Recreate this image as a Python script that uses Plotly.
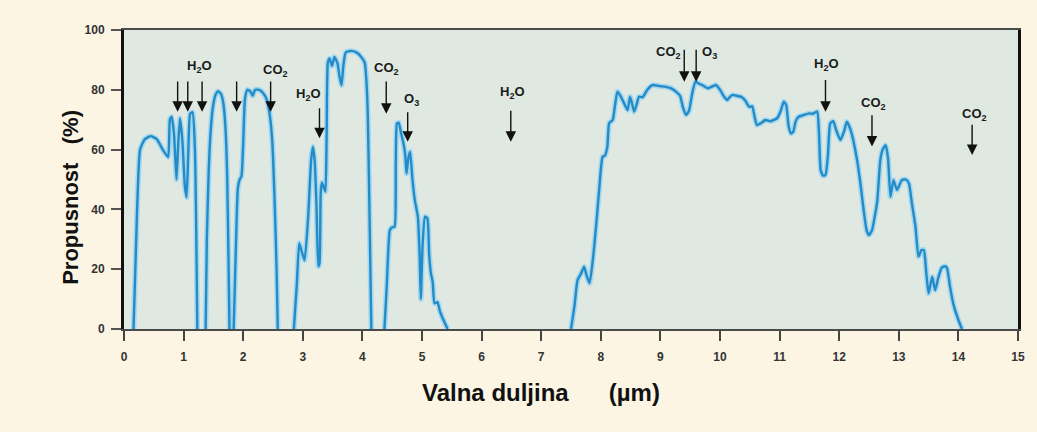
import plotly.graph_objects as go

# ---- data: atmospheric transmission bands (wavelength in µm, transmission in %) ----
band1_x = [0.16, 0.22, 0.27, 0.35, 0.45, 0.55, 0.65, 0.74, 0.77, 0.80, 0.84, 0.88, 0.91, 0.94, 0.98, 1.02, 1.05, 1.08, 1.11, 1.15, 1.19, 1.23]
band1_y = [0, 40, 60, 63.5, 64.5, 63.5, 60, 57.5, 70, 71, 65, 50, 62, 70.5, 63, 48, 44, 60, 72, 72.5, 60, 0]

band2_x = [1.37, 1.39, 1.42, 1.45, 1.49, 1.54, 1.58, 1.63, 1.67, 1.70, 1.73, 1.75, 1.77]
band2_y = [0, 30, 52, 65, 74, 78.5, 79.5, 78.5, 75, 68, 52, 28, 0]

band3_x = [1.84, 1.87, 1.91, 1.94, 1.97, 2.00, 2.03, 2.07, 2.12, 2.16, 2.20, 2.27, 2.33, 2.40, 2.45, 2.49, 2.53, 2.56, 2.58]
band3_y = [0, 22, 47, 50, 51, 62, 77, 80, 79.5, 78, 80, 80, 79, 76.5, 71, 62, 41, 20, 0]

band4_x = [2.85, 2.90, 2.94, 2.98, 3.03, 3.09, 3.14, 3.17, 3.20, 3.23, 3.26, 3.28, 3.30, 3.32, 3.36, 3.38, 3.40, 3.42, 3.45, 3.49, 3.53, 3.58, 3.62, 3.65, 3.68, 3.72, 3.80, 3.90, 3.98, 4.04, 4.07, 4.09, 4.11, 4.13, 4.15]
band4_y = [0, 15, 28.7, 26, 23, 37.6, 56.5, 61, 56, 41, 21, 22, 45, 49, 47, 46, 65, 89, 90.5, 88, 91, 89, 84, 81.5, 88, 92.5, 93, 92.5, 91, 89, 82, 72, 50, 25, 0]

band5_x = [4.37, 4.41, 4.46, 4.50, 4.54, 4.56, 4.58, 4.61, 4.65, 4.69, 4.72, 4.74, 4.77, 4.80, 4.84, 4.88, 4.93, 4.96, 4.98, 5.01, 5.05, 5.09, 5.12, 5.15, 5.18, 5.21, 5.26, 5.30, 5.36, 5.43]
band5_y = [0, 15, 33, 34, 34.2, 55, 68.8, 69, 65.4, 62, 58, 52, 57, 59.3, 50, 43, 37.6, 25, 10, 28, 37.6, 37, 25, 18.6, 15.6, 8.6, 9, 6, 3, 0]

band6_x = [7.50, 7.56, 7.61, 7.67, 7.72, 7.76, 7.81, 7.86, 7.92, 7.97, 8.03, 8.07, 8.11, 8.14, 8.20, 8.24, 8.28, 8.33, 8.39, 8.45, 8.49, 8.53, 8.56, 8.60, 8.64, 8.70, 8.78, 8.87, 9.00, 9.09, 9.18, 9.26, 9.33, 9.38, 9.43, 9.48, 9.54, 9.59, 9.65, 9.70, 9.80, 9.93, 10.00, 10.07, 10.12, 10.16, 10.21, 10.28, 10.35, 10.42, 10.49, 10.54, 10.58, 10.62, 10.70, 10.76, 10.85, 10.96, 11.02, 11.07, 11.11, 11.15, 11.19, 11.23, 11.27, 11.32, 11.40, 11.49, 11.56, 11.63, 11.66, 11.69, 11.73, 11.77, 11.81, 11.85, 11.90, 11.95, 12.02, 12.08, 12.13, 12.20, 12.30, 12.36, 12.41, 12.46, 12.50, 12.55, 12.60, 12.64, 12.69, 12.73, 12.78, 12.82, 12.86, 12.91, 12.97, 13.05, 13.12, 13.17, 13.22, 13.28, 13.33, 13.38, 13.42, 13.46, 13.50, 13.56, 13.61, 13.66, 13.72, 13.78, 13.81, 13.86, 13.92, 14.00, 14.06]
band6_y = [0, 8, 16.4, 18.6, 20.8, 18, 15.3, 22, 34.2, 46, 57.6, 58, 61, 68.8, 69.9, 75, 79.4, 78, 75.5, 73.2, 77.7, 75, 72.7, 75, 77.7, 77.5, 80, 81.6, 81.2, 81, 80.5, 79.4, 78, 74, 71.6, 73, 79.4, 82.7, 82, 81.6, 80.5, 81.6, 80, 77.7, 76.6, 77.5, 78.3, 78, 77.7, 76.5, 74.3, 74.5, 71, 68.2, 69, 69.9, 69.5, 70.5, 73, 76, 75, 68, 65.4, 66, 69.5, 71, 71.5, 72.1, 72, 72.7, 66, 53, 51.3, 51.5, 58, 68.8, 69.5, 66.5, 63.2, 66, 69.3, 66, 56.5, 48, 39.8, 33, 31.4, 33, 38, 43.1, 56.5, 60, 61.5, 57, 44.2, 49.8, 46.5, 49.8, 50, 48.7, 42, 34.2, 24.2, 26.4, 26.4, 19, 11.9, 17.5, 13, 17, 20.5, 21, 20.3, 14.1, 8, 3, 0]

# ---- absorber markers (arrows) ----
arrow_x = [0.90, 1.07, 1.31, 1.89, 2.46, 3.28, 4.40, 4.76, 6.49, 9.40, 9.60, 11.77, 12.55, 14.23]
arrow_tip = [72.7, 72.7, 72.7, 72.7, 72.7, 63.8, 72, 62.6, 62.6, 82.7, 82.7, 72.7, 61, 58.2]
arrow_tail = [83.3, 83.3, 83.3, 83.3, 83.3, 74.3, 83.3, 73, 73.5, 93.9, 93.9, 83.8, 72, 68.8]

label_text = ["H<sub>2</sub>O", "CO<sub>2</sub>", "H<sub>2</sub>O", "CO<sub>2</sub>", "O<sub>3</sub>", "H<sub>2</sub>O",
              "CO<sub>2</sub>", "O<sub>3</sub>", "H<sub>2</sub>O", "CO<sub>2</sub>", "CO<sub>2</sub>"]
label_x = [1.27, 2.55, 3.10, 4.40, 4.82, 6.52, 9.13, 9.82, 11.78, 12.58, 14.27]
label_y = [87.8, 86.6, 78.3, 87.0, 76.6, 79.0, 92.6, 92.6, 88.6, 75.3, 71.9]

x_ticks = list(range(0, 16))
y_ticks = [0, 20, 40, 60, 80, 100]

x_title = "Valna duljina\u00a0\u00a0\u00a0\u00a0\u00a0\u00a0(µm)"
y_title = "Propusnost\u00a0\u00a0\u00a0(%)"

# ---- build ----
bands = [(band1_x, band1_y), (band2_x, band2_y), (band3_x, band3_y),
         (band4_x, band4_y), (band5_x, band5_y), (band6_x, band6_y)]
xs, ys = [], []
for bx, by in bands:
    xs += bx + [None]
    ys += by + [None]

fig = go.Figure()
fig.add_trace(go.Scatter(x=xs, y=ys, mode="lines", connectgaps=False,
                         line=dict(color="rgba(150,210,240,0.8)", width=5.5, shape="spline", smoothing=0.5),
                         hoverinfo="skip", showlegend=False))
fig.add_trace(go.Scatter(x=xs, y=ys, mode="lines", connectgaps=False,
                         line=dict(color="rgb(35,140,200)", width=2.4, shape="spline", smoothing=0.5),
                         showlegend=False))

annotations = []
for ax_, tip, tail in zip(arrow_x, arrow_tip, arrow_tail):
    annotations.append(dict(x=ax_, y=tip, ax=ax_, ay=tail, xref="x", yref="y", axref="x", ayref="y",
                            text="", showarrow=True, arrowhead=2, arrowsize=1.5, arrowwidth=1.4,
                            arrowcolor="#111111", standoff=0))
for t, lx, ly in zip(label_text, label_x, label_y):
    annotations.append(dict(x=lx, y=ly, xref="x", yref="y", text="<b>" + t + "</b>", showarrow=False,
                            font=dict(family="Liberation Sans Narrow, Liberation Sans, Arial", size=13, color="#1a1a1a")))
annotations.append(dict(x=0.466, y=-0.264, xref="paper", yref="paper", text="<b>" + x_title + "</b>",
                        showarrow=False, font=dict(family="Liberation Sans, Arial", size=24, color="#111111")))
annotations.append(dict(x=-0.077, y=0.441, xref="paper", yref="paper", text="<b>" + y_title + "</b>",
                        showarrow=False, textangle=-90,
                        font=dict(family="Liberation Sans, Arial", size=22, color="#111111")))

fig.update_layout(
    width=1037, height=432, autosize=False,
    margin=dict(l=124, r=17, t=30, b=103),
    paper_bgcolor="#fcf5e3", plot_bgcolor="#dfe9e2",
    annotations=annotations,
    xaxis=dict(range=[0, 15], tickvals=x_ticks, ticktext=[f"<b>{v}</b>" for v in x_ticks],
               showgrid=False, zeroline=False, showline=True, linecolor="#4a4a4a", linewidth=2, mirror=True,
               ticks="outside", ticklen=10, tickwidth=2, tickcolor="#444444", ticklabelstandoff=6,
               tickfont=dict(family="Liberation Sans, Arial", size=12, color="#333333")),
    yaxis=dict(range=[0, 100], tickvals=y_ticks, ticktext=[f"<b>{v}</b>" for v in y_ticks],
               showgrid=False, zeroline=False, showline=True, linecolor="#111111", linewidth=3, mirror=True,
               ticks="outside", ticklen=10, tickwidth=1.5, tickcolor="#555555", ticklabelstandoff=4,
               tickfont=dict(family="Liberation Sans, Arial", size=12, color="#333333")),
)

fig.write_html("out.html", config={"displayModeBar": False},
               post_script="document.body.style.margin='0px';document.body.style.background='#fcf5e3';")
